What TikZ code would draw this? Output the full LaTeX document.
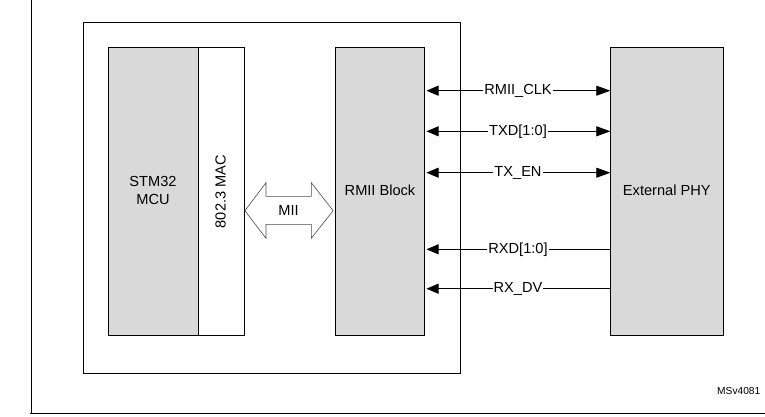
\documentclass[tikz,border=0pt]{standalone}
\usepackage{fontspec}
\setmainfont{Liberation Sans}
\usetikzlibrary{arrows.meta,calc}
\begin{document}
\begin{tikzpicture}[x=1pt,y=-1pt,
  every node/.style={font=\fontsize{14.6}{17.6}\selectfont, inner sep=0pt},
  blk/.style={draw=black, line width=0.9pt, fill=gray!30!white},
  whitebox/.style={draw=black, line width=0.9pt, fill=white},
  sig/.style={line width=0.8pt},
  tip/.style={-{Triangle[length=12pt,width=10pt]}},
  lbl/.style={fill=white, inner xsep=1pt, inner ysep=1pt}]
\useasboundingbox (0,0) rectangle (765,416);
% outer frame
\coordinate (ftop) at (31.3,0);
\coordinate (fcorner) at (31.3,413.7);
\coordinate (fright) at (765,413.7);
\draw[line width=0.9pt] (ftop) -- (fcorner) -- (30,413.7) (fcorner) -- (fright);
% inner box
\node[draw=black, line width=0.9pt, minimum width=377pt, minimum height=351pt, anchor=north west] (chip) at (83.3,22.3) {};
% STM32 MCU
\node[blk, minimum width=90pt, minimum height=287.7pt, anchor=north west] (mcu) at (108.3,47.3) {};
\node[align=center] at (153,190.5) {STM32\\MCU};
% MAC
\node[whitebox, minimum width=46pt, minimum height=287.7pt, anchor=north west] (mac) at (198.3,47.3) {};
\node[rotate=90] at (220.5,191.7) {802.3 MAC};
% RMII block
\node[blk, minimum width=89pt, minimum height=287.7pt, anchor=north west] (rmii) at (335.3,47.3) {};
\node at (380,190.5) {RMII Block};
% External PHY
\node[blk, minimum width=113pt, minimum height=287.7pt, anchor=north west] (phy) at (610.3,47.3) {};
\node at (666.8,190.5) {External PHY};
% MII double arrow
\draw[draw=gray!60!black, line width=0.6pt, fill=white]
  (244.9,210.7) -- (266,182.7) -- (266,196.3) -- (311.3,196.3) -- (311.3,182.7)
  -- (333.1,210.7) -- (311.3,238.3) -- (311.3,224.3) -- (266,224.3) -- (266,238.3) -- cycle;
\node (mii) at (288.5,210.5) {MII};
% signal lines
\foreach \y/\t/\n in {90.7/RMII\_CLK/clk, 131.3/TXD[1:0]/txd, 172.7/TX\_EN/txen}{
  \coordinate (\n L) at (426.5,\y);
  \coordinate (\n R) at (610.3,\y);
  \draw[sig, {Triangle[length=12pt,width=10pt]}-{Triangle[length=14pt,width=10pt]}] (\n L) -- (\n R);
  \node[lbl] (\n lab) at (518,\y) {\t};
}
\foreach \y/\t/\n in {249.3/RXD[1:0]/rxd, 288.7/RX\_DV/rxdv}{
  \coordinate (\n L) at (426.5,\y);
  \coordinate (\n R) at (610.3,\y);
  \draw[sig, tip] (\n R) -- (\n L);
  \node[lbl] (\n lab) at (518,\y) {\t};
}
% figure code
\node[anchor=east, font=\fontsize{10.2}{12}\selectfont] (code) at (760.5,391) {MSv4081};
\end{tikzpicture}
\end{document}
